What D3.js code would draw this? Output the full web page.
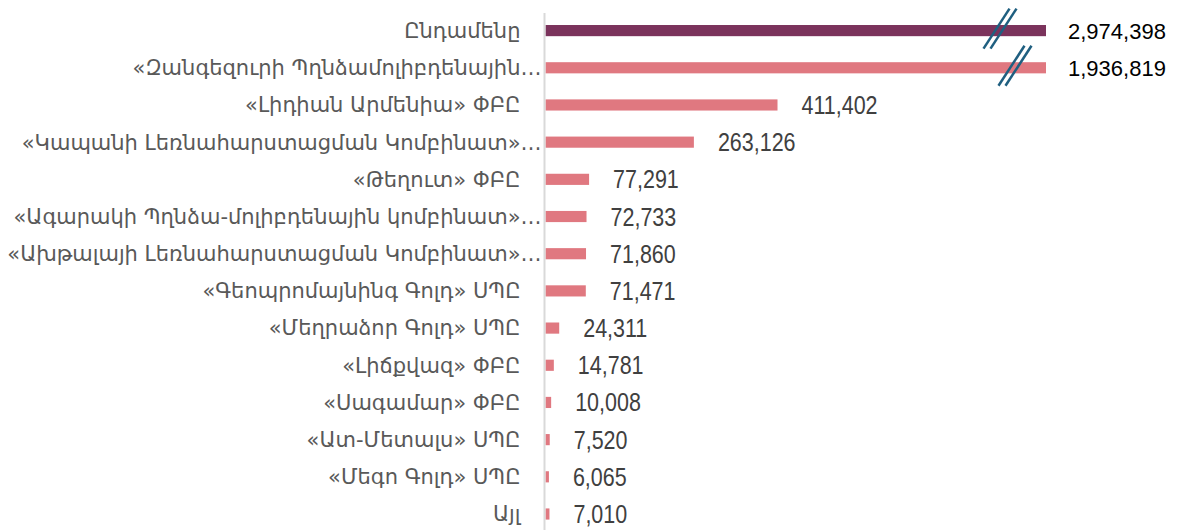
<!DOCTYPE html>
<html>
<head>
<meta charset="utf-8">
<script src="https://cdn.jsdelivr.net/npm/d3@7"></script>
<style>
  body { margin: 0; background: #fff; }
  svg { display: block; }
</style>
</head>
<body>
<script>
// companies (labels as shown on the chart, long ones cut with an ellipsis)
var companies = [
  "Ընդամենը",
  "«Զանգեզուրի Պղնձամոլիբդենային…",
  "«Լիդիան Արմենիա» ՓԲԸ",
  "«Կապանի Լեռնահարստացման Կոմբինատ»…",
  "«Թեղուտ» ՓԲԸ",
  "«Ագարակի Պղնձա-մոլիբդենային կոմբինատ»…",
  "«Ախթալայի Լեռնահարստացման Կոմբինատ»…",
  "«Գեոպրոմայնինգ Գոլդ» ՍՊԸ",
  "«Մեղրաձոր Գոլդ» ՍՊԸ",
  "«Լիճքվազ» ՓԲԸ",
  "«Սագամար» ՓԲԸ",
  "«Ատ-Մետալս» ՍՊԸ",
  "«Մեգո Գոլդ» ՍՊԸ",
  "Այլ"
];
var values = [2974398, 1936819, 411402, 263126, 77291, 72733, 71860, 71471, 24311, 14781, 10008, 7520, 6065, 7010];
// bars that are cut on the chart (value axis break)
var broken = [true, true, false, false, false, false, false, false, false, false, false, false, false, false];

var Width = 1181, Height = 530;
var axisX = 545.5;
var breakValue = 887500; // everything above is drawn cut at the right edge

var svg = d3.select("body").append("svg")
  .attr("width", Width)
  .attr("height", Height);

var x = d3.scaleLinear()
  .domain([0, breakValue])
  .range([axisX, 1046])
  .clamp(true);

var y = d3.scaleBand()
  .domain(companies)
  .range([12, 532.6])
  .paddingInner(0.7)
  .paddingOuter(0.35);

var rows = companies.map(function(c, i) { return {name: c, value: values[i], broken: broken[i], i: i}; });

// bars
svg.selectAll("rect.bar")
  .data(rows)
  .enter().append("rect")
  .attr("class", "bar")
  .attr("x", axisX)
  .attr("y", function(d) { return y(d.name); })
  .attr("width", function(d) { return x(d.value) - axisX; })
  .attr("height", y.bandwidth())
  .attr("fill", function(d) { return d.i == 0 ? "#7b335c" : "#e07880"; });

// category axis
var yAxis = svg.append("g")
  .attr("transform", "translate(" + (axisX - 1) + ",0)")
  .call(d3.axisLeft(y).tickSize(0).tickPadding(4));
yAxis.select(".domain")
  .attr("stroke", "#d9d9d9")
  .attr("stroke-width", 2)
  .attr("d", "M0,13V530");
yAxis.selectAll(".tick text")
  .attr("x", function(d) { return d.slice(-1) == "…" ? -3 : -24; })
  .attr("dy", "0.35em")
  .style("font-family", "'DejaVu Sans', sans-serif")
  .style("font-size", "21px")
  .attr("fill", "#595959");

// value labels (the small ones use a condensed look)
var fmt = d3.format(",");
svg.selectAll("text.val")
  .data(rows)
  .enter().append("text")
  .attr("class", "val")
  .attr("transform", function(d) {
    var tx = x(d.value) + (d.broken ? 22 : 24);
    var ty = y(d.name) + y.bandwidth() / 2;
    return "translate(" + tx + "," + ty + ")" + (d.broken ? "" : " scale(0.86,1)");
  })
  .attr("dy", "0.36em")
  .style("font-family", "'Liberation Sans', Arial, sans-serif")
  .style("font-size", function(d) { return d.broken ? "22px" : "25px"; })
  .attr("fill", function(d) { return d.broken ? "#000" : "#404040"; })
  .text(function(d) { return fmt(d.value); });

// break marks on the cut bars (two parallel slashes)
var breakOffset = [46, 31];
rows.filter(function(d) { return d.broken; }).forEach(function(d) {
  var cx = x(d.value) - breakOffset[d.i];
  var cy = y(d.name) + y.bandwidth() / 2 - 2;
  [-3.5, 3.5].forEach(function(off) {
    svg.append("line")
      .attr("x1", cx + off - 13).attr("y1", cy + 20)
      .attr("x2", cx + off + 13).attr("y2", cy - 20)
      .attr("stroke", "#1f5f80")
      .attr("stroke-width", 2.5);
  });
});
</script>
</body>
</html>
